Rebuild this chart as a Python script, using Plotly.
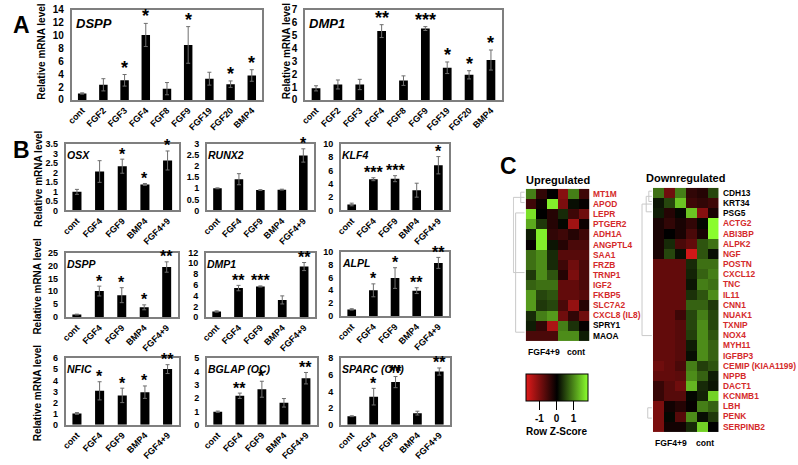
import plotly.graph_objects as go

# ---------------- data ----------------
cats_A = ["cont", "FGF2", "FGF3", "FGF4", "FGF8", "FGF9", "FGF19", "FGF20", "BMP4"]
cats_B = ["cont", "FGF4", "FGF9", "BMP4", "FGF4+9"]

dspp_A = [1.0, 2.35, 3.05, 10.1, 1.75, 8.55, 3.3, 2.45, 3.8]
dspp_A_err = [0.1, 0.95, 0.9, 1.8, 0.95, 2.85, 1.0, 0.5, 0.9]
dspp_A_sig = ["", "", "*", "*", "", "*", "", "*", "*"]

dmp1_A = [0.9, 1.2, 1.2, 5.35, 1.5, 5.55, 2.5, 1.95, 3.1]
dmp1_A_err = [0.2, 0.35, 0.4, 0.5, 0.37, 0.15, 0.45, 0.32, 0.78]
dmp1_A_sig = ["", "", "", "**", "", "***", "*", "*", "*"]

osx = [0.98, 2.05, 2.33, 1.37, 2.63]
osx_err = [0.13, 0.57, 0.37, 0.05, 0.5]
osx_sig = ["", "", "*", "*", "*"]

runx2 = [1.0, 1.41, 0.92, 0.94, 2.48]
runx2_err = [0.02, 0.25, 0.02, 0.02, 0.3]
runx2_sig = ["", "", "", "", "*"]

klf4 = [0.9, 4.7, 4.78, 3.05, 6.8]
klf4_err = [0.2, 0.22, 0.45, 1.05, 1.3]
klf4_sig = ["", "***", "***", "", "*"]

dspp_B = [1.0, 10.1, 8.5, 3.8, 19.4]
dspp_B_err = [0.15, 1.9, 2.9, 0.95, 2.0]
dspp_B_sig = ["", "*", "*", "*", "**"]

dmp1_B = [1.05, 5.4, 5.7, 3.2, 9.4]
dmp1_B_err = [0.12, 0.5, 0.1, 0.75, 0.75]
dmp1_B_sig = ["", "**", "***", "", "**"]

alpl = [1.05, 4.0, 5.9, 3.95, 8.25]
alpl_err = [0.1, 1.0, 1.6, 0.45, 0.85]
alpl_sig = ["", "*", "*", "**", "**"]

nfic = [1.02, 3.06, 2.65, 2.94, 5.02]
nfic_err = [0.08, 0.82, 0.65, 0.56, 0.4]
nfic_sig = ["", "*", "*", "*", "**"]

bglap = [0.98, 2.18, 2.67, 1.65, 3.5]
bglap_err = [0.05, 0.2, 0.6, 0.32, 0.43]
bglap_sig = ["", "**", "*", "", "**"]

sparc = [1.03, 3.38, 5.13, 1.4, 6.4]
sparc_err = [0.05, 1.0, 0.67, 0.23, 0.43]
sparc_sig = ["", "*", "**", "", "**"]

hm_cols = ["FGF4+9 a", "FGF4+9 b", "FGF4+9 c", "cont a", "cont b", "cont c"]

up_genes = ["MT1M", "APOD", "LEPR", "PTGER2", "ADH1A", "ANGPTL4", "SAA1", "FRZB",
            "TRNP1", "IGF2", "FKBP5", "SLC7A2", "CXCL8 (IL8)", "SPRY1", "MAOA"]
up_label_red = [True, True, True, True, True, True, True, True,
                True, True, True, True, True, False, False]
up_z = [
    [0.9, -0.4, 0.0, -1.1, 0.9, -0.5],
    [-0.5, -0.1, 1.7, -1.0, 0.1, -0.05],
    [1.6, 0.0, -0.3, 0.3, -0.5, -0.9],
    [1.2, 0.4, -0.3, 0.05, -1.3, -0.1],
    [0.2, 1.7, -0.4, -0.5, -0.3, -0.5],
    [-0.05, 1.7, 0.15, -0.3, -0.6, -0.6],
    [0.8, 1.0, 0.3, -0.7, -0.7, -0.7],
    [0.8, 1.0, 0.3, -0.5, -0.9, -0.6],
    [0.4, 1.0, 0.6, -0.3, -1.0, -0.6],
    [0.7, 0.8, 0.8, -0.8, -0.8, -0.6],
    [1.1, 0.5, 0.6, -0.8, -0.8, -0.7],
    [1.1, 0.4, 0.5, -0.6, -1.2, -0.3],
    [0.3, 0.9, 1.1, -0.9, -0.4, -0.9],
    [0.2, -0.4, -1.4, 0.9, 0.35, -0.05],
    [-0.6, -0.6, -0.6, 1.0, 1.0, 0.2],
]

down_genes = ["CDH13", "KRT34", "PSG5", "ACTG2", "ABI3BP", "ALPK2", "NGF", "POSTN",
              "CXCL12", "TNC", "IL11", "CNN1", "NUAK1", "TXNIP", "NOX4", "MYH11",
              "IGFBP3", "CEMIP (KIAA1199)", "NPPB", "DACT1", "KCNMB1", "LBH", "PENK",
              "SERPINB2"]
down_label_red = [False, False, False, True, True, True, True, True,
                  True, True, True, True, True, True, True, True,
                  True, True, True, True, True, True, True, True]
down_z = [
    [0.8, -0.9, 0.9, -0.4, -0.3, 0.5],
    [0.15, 0.5, 1.4, -0.5, -0.4, -0.5],
    [0.2, -0.3, 0.05, 1.4, -1.1, -0.2],
    [-0.2, -0.4, -0.2, -0.4, 0.05, 1.8],
    [-0.2, 0.0, -0.2, -0.6, -0.2, 1.8],
    [-0.2, 0.3, -0.6, -0.8, 0.6, 0.8],
    [-0.2, 0.5, 0.1, -1.7, 0.6, 0.1],
    [-0.8, -0.8, -0.8, 0.3, 0.8, 0.8],
    [-0.8, -0.8, -0.8, 0.25, 0.7, 0.9],
    [-0.8, -0.8, -0.8, 0.15, 0.9, 0.8],
    [-0.8, -0.8, -0.8, 0.35, 0.6, 1.0],
    [-0.8, -0.8, -0.8, 0.7, 0.7, 0.4],
    [-0.8, -0.8, -0.5, 0.5, 0.9, 0.5],
    [-0.8, -0.8, -0.7, 0.5, 1.0, 0.5],
    [-0.8, -0.8, -0.7, 0.45, 1.0, 0.6],
    [-0.8, -0.8, -0.7, 0.2, 1.0, 0.7],
    [-0.8, -0.8, -0.7, 0.1, 1.0, 0.7],
    [-0.9, -0.8, -0.6, 0.9, 0.45, 0.6],
    [-0.8, -0.8, -0.75, 1.0, 0.7, 0.2],
    [-0.45, -0.7, -0.9, 1.3, 0.3, 0.15],
    [-0.45, -0.7, -0.7, 0.05, 0.25, 1.5],
    [-1.0, -0.15, -0.3, -0.05, 0.9, 0.7],
    [-1.0, 0.05, -0.7, 1.0, 0.1, 0.4],
    [-1.0, -0.15, -0.15, 0.3, 1.5, 0.0],
]

# dendrogram brackets: (row_a, row_b, height as fraction of the dendrogram width)
up_dendro = [(0, 1, 0.35), (2, 13.5, 0.8), (0.5, 7.75, 1.0)]
down_dendro = [(0, 1, 0.3), (0.5, 2, 0.55), (21, 22, 0.4), (1.25, 14, 0.95)]

zscore_ticks = [-1, 0, 1]

# ---------------- layout helpers ----------------
W, H = 798, 465
FONT = "Arial, Liberation Sans, sans-serif"
BOX = "#7f7f7f"


def dom_x(l, r):
    return [l / W, r / W]


def dom_y(t, b):
    return [1 - b / H, 1 - t / H]


def sfx(i):
    return "" if i == 1 else str(i)


panels = [
    dict(name="DSPP", cats=cats_A, v=dspp_A, e=dspp_A_err, s=dspp_A_sig, ymax=14, dt=2, rect=(67, 5, 259, 97), big=True),
    dict(name="DMP1", cats=cats_A, v=dmp1_A, e=dmp1_A_err, s=dmp1_A_sig, ymax=7, dt=1, rect=(302, 5, 500, 97), big=True),
    dict(name="OSX", cats=cats_B, v=osx, e=osx_err, s=osx_sig, ymax=3.5, dt=0.5, rect=(61, 142, 175, 210), big=False),
    dict(name="RUNX2", cats=cats_B, v=runx2, e=runx2_err, s=runx2_sig, ymax=3, dt=0.5, rect=(203, 142, 311, 210), big=False),
    dict(name="KLF4", cats=cats_B, v=klf4, e=klf4_err, s=klf4_sig, ymax=10, dt=2, rect=(338, 142, 447, 210), big=False),
    dict(name="DSPP", cats=cats_B, v=dspp_B, e=dspp_B_err, s=dspp_B_sig, ymax=25, dt=5, rect=(61, 253, 174, 319), big=False),
    dict(name="DMP1", cats=cats_B, v=dmp1_B, e=dmp1_B_err, s=dmp1_B_sig, ymax=12, dt=2, rect=(202, 253, 312, 319), big=False),
    dict(name="ALPL", cats=cats_B, v=alpl, e=alpl_err, s=alpl_sig, ymax=10, dt=2, rect=(338, 252, 447, 318), big=False),
    dict(name="NFIC", cats=cats_B, v=nfic, e=nfic_err, s=nfic_sig, ymax=6, dt=1, rect=(61, 361, 175, 429), big=False),
    dict(name="BGLAP (OC)", cats=cats_B, v=bglap, e=bglap_err, s=bglap_sig, ymax=5, dt=1, rect=(203, 361, 314, 429), big=False),
    dict(name="SPARC (ON)", cats=cats_B, v=sparc, e=sparc_err, s=sparc_sig, ymax=8, dt=2, rect=(338, 361, 448, 429), big=False),
]

fig = go.Figure()
layout = {}
annotations = []

for i, p in enumerate(panels, start=1):
    s_ = sfx(i)
    l, t, r, b = p["rect"]
    n = len(p["cats"])
    fig.add_trace(go.Bar(
        x=p["cats"], y=p["v"], width=0.4,
        marker=dict(color="black", line=dict(width=0)),
        error_y=dict(type="data", array=p["e"], visible=True, color="#6e6e6e", thickness=1, width=2),
        xaxis=f"x{s_}", yaxis=f"y{s_}", hoverinfo="skip",
    ))
    layout[f"xaxis{s_}"] = dict(
        domain=dom_x(l, r), anchor=f"y{s_}", type="category", range=[-0.5, n - 0.5],
        tickangle=-45, tickfont=dict(size=9, color="black", family=FONT, weight="bold"),
        showline=True, mirror=True, linecolor=BOX, linewidth=1.5, showgrid=False,
        zeroline=False, ticks="", fixedrange=True,
    )
    layout[f"yaxis{s_}"] = dict(
        domain=dom_y(t, b), anchor=f"x{s_}", range=[0, p["ymax"]], dtick=p["dt"], tick0=0,
        tickfont=dict(size=10 if p["big"] else 9, color="black", family=FONT, weight="bold"),
        showline=True, mirror=True, linecolor=BOX, linewidth=1.5, showgrid=False,
        zeroline=False, ticks="", ticklabelstandoff=4, fixedrange=True,
    )
    # gene name inside box
    annotations.append(dict(
        xref=f"x{s_} domain", yref=f"y{s_} domain", x=0, y=1, xanchor="left", yanchor="middle",
        xshift=2 if p["big"] else -1, yshift=-14 if p["big"] else -11,
        text=f"<b><i>{p['name']}</i></b>", showarrow=False,
        font=dict(size=13 if p["big"] else 10.5, color="black", family=FONT),
    ))
    # significance stars
    for c, v, e, s in zip(p["cats"], p["v"], p["e"], p["s"]):
        if s:
            annotations.append(dict(
                xref=f"x{s_}", yref=f"y{s_}", x=c, y=v + e, text=s, showarrow=False,
                yanchor="middle", yshift=7 if p["big"] else 5,
                font=dict(size=18 if p["big"] else 16, color="black", family=FONT, weight="bold"),
            ))

# y-axis titles
ytitle_pos = [(37, 47), (284, 47), (33, 177), (33, 287), (33, 396)]
for x, y in ytitle_pos:
    annotations.append(dict(
        xref="paper", yref="paper", x=x / W, y=1 - y / H, xanchor="center", yanchor="middle",
        text="<b>Relative mRNA level</b>", textangle=-90, showarrow=False,
        font=dict(size=10, color="black", family=FONT),
    ))

# panel letters
for letter, x, y in [("A", 17, 20), ("B", 17, 148), ("C", 507, 165)]:
    annotations.append(dict(
        xref="paper", yref="paper", x=x / W, y=1 - y / H, xanchor="center", yanchor="middle",
        text=f"<b>{letter}</b>", showarrow=False, font=dict(size=23, color="black", family=FONT),
    ))

# ---------------- heatmaps ----------------
RED = "#d42a2a"
colorscale = [[0, "#e01a1a"], [0.5, "#000000"], [1, "#8cff2e"]]

heat_specs = [
    dict(idx=12, genes=up_genes, z=up_z, red=up_label_red, rect=(524, 186, 588, 345),
         title="Upregulated", title_y=179, dendro=up_dendro, dendro_l=511, lab_y=355),
    dict(idx=13, genes=down_genes, z=down_z, red=down_label_red, rect=(652, 185, 718, 438),
         title="Downregulated", title_y=177, dendro=down_dendro, dendro_l=640, lab_y=448),
]

for k, hs in enumerate(heat_specs):
    i = hs["idx"]
    l, t, r, b = hs["rect"]
    fig.add_trace(go.Heatmap(
        z=hs["z"], x=hm_cols, y=hs["genes"], coloraxis="coloraxis",
        xaxis=f"x{i}", yaxis=f"y{i}", hoverinfo="skip",
    ))
    layout[f"xaxis{i}"] = dict(domain=dom_x(l, r), anchor=f"y{i}", showticklabels=False, ticks="",
                               showgrid=False, zeroline=False, showline=False, fixedrange=True)
    layout[f"yaxis{i}"] = dict(domain=dom_y(t, b), anchor=f"x{i}", autorange="reversed",
                               showticklabels=False, ticks="", showgrid=False, zeroline=False,
                               showline=False, fixedrange=True)
    for g, isred in zip(hs["genes"], hs["red"]):
        annotations.append(dict(
            xref=f"x{i} domain", yref=f"y{i}", x=1, y=g, xanchor="left", yanchor="middle", xshift=2,
            text=f"<b>{g}</b>", showarrow=False,
            font=dict(size=8.4, color=RED if isred else "black", family=FONT),
        ))
    annotations.append(dict(
        xref=f"x{i} domain", yref="paper", x=0.5, y=1 - hs["title_y"] / H, xanchor="center",
        yanchor="middle", text=f"<b>{hs['title']}</b>", showarrow=False,
        font=dict(size=11, color="black", family=FONT),
    ))
    annotations.append(dict(
        xref=f"x{i} domain", yref="paper", x=0, y=1 - hs["lab_y"] / H, xanchor="left",
        yanchor="middle", text="<b>FGF4+9</b>", showarrow=False,
        font=dict(size=8.6, color="black", family=FONT),
    ))
    annotations.append(dict(
        xref=f"x{i} domain", yref="paper", x=0.62, y=1 - hs["lab_y"] / H, xanchor="left",
        yanchor="middle", text="<b>cont</b>", showarrow=False,
        font=dict(size=8.6, color="black", family=FONT),
    ))
    # dendrogram
    di = i + 2
    xs, ys = [], []
    for a, bb, h in hs["dendro"]:
        xs += [0, h, h, 0, None]
        ys += [a, a, bb, bb, None]
    fig.add_trace(go.Scatter(x=xs, y=ys, mode="lines", line=dict(color="#c9c9c9", width=1),
                             xaxis=f"x{di}", yaxis=f"y{di}", hoverinfo="skip"))
    layout[f"xaxis{di}"] = dict(domain=dom_x(hs["dendro_l"], l - 1), anchor=f"y{di}", range=[1.05, 0],
                                visible=False, fixedrange=True)
    layout[f"yaxis{di}"] = dict(domain=dom_y(t, b), anchor=f"x{di}",
                                range=[len(hs["genes"]) - 0.5, -0.5], visible=False, fixedrange=True)

fig.update_layout(
    width=W, height=H, margin=dict(l=0, r=0, t=0, b=0),
    paper_bgcolor="white", plot_bgcolor="white", showlegend=False,
    font=dict(family=FONT, color="black"),
    annotations=annotations,
    coloraxis=dict(
        colorscale=colorscale, cmin=-1.82, cmax=1.82,
        colorbar=dict(
            orientation="h", x=555 / W, xanchor="center", y=1 - 377 / H, yanchor="top",
            len=62, lenmode="pixels", thickness=27, thicknessmode="pixels",
            outlinewidth=1, outlinecolor="black", xpad=0, ypad=0,
            tickvals=zscore_ticks, ticktext=[str(v) for v in zscore_ticks],
            ticks="outside", ticklen=9, tickcolor="black", tickwidth=1,
            tickfont=dict(size=10, color="black", family=FONT, weight="bold"),
            title=dict(text="<b>Row Z-Score</b>", side="bottom",
                       font=dict(size=10, color="black", family=FONT)),
        ),
    ),
    **layout,
)

fig.write_html("out.html", config={"displayModeBar": False},
               post_script="document.body.style.margin='0';")
